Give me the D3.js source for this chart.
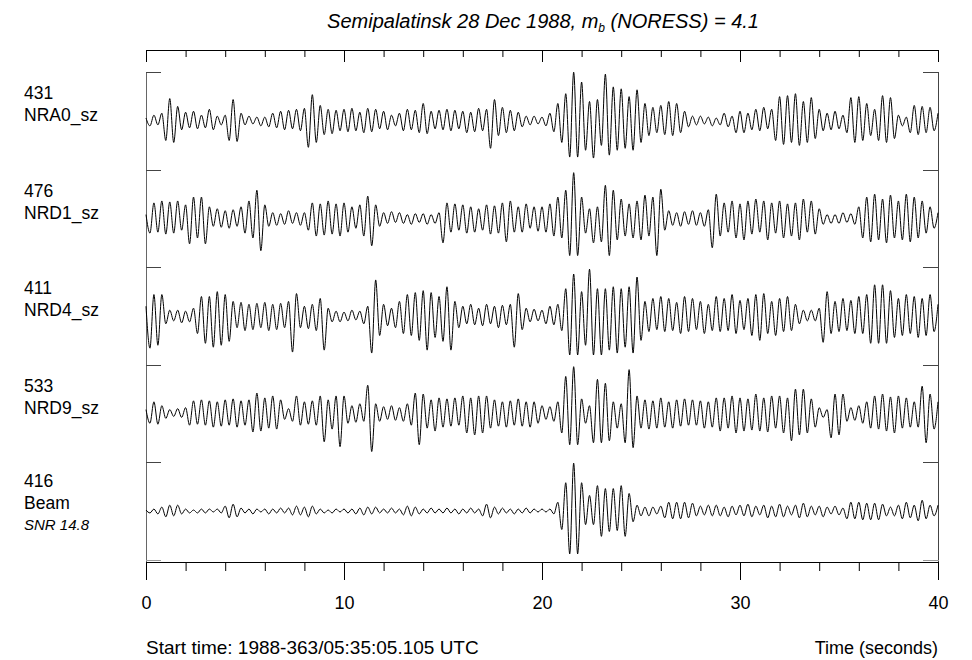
<!DOCTYPE html>
<html>
<head>
<meta charset="utf-8">
<script src="https://cdn.jsdelivr.net/npm/d3@7"></script>
<style>
body { margin: 0; background: #fff; }
text { font-family: "Liberation Sans", Arial, sans-serif; fill: #000; }
</style>
</head>
<body>
<svg id="chart" width="972" height="660"></svg>
<script>
// labels and trace data
var channels = ["NRA0_sz", "NRD1_sz", "NRD4_sz", "NRD9_sz", "Beam"];
var maxAmps = ["431", "476", "411", "533", "416"];
var beamNote = "SNR 14.8";
var xTicks = [0, 10, 20, 30, 40];
var xMinorTicks = [0, 2, 4, 6, 8, 10, 12, 14, 16, 18, 20, 22, 24, 26, 28, 30, 32, 34, 36, 38, 40];
var startText = "Start time: 1988-363/05:35:05.105 UTC";
var xLabel = "Time (seconds)";

// samples every 0.2 s, amplitude normalised to +-50 of the trace maximum
var SAMPLE_DT = 0.2;

var nra0 = [
	3,-5,6,-4,8, -20,23,-22,15,-9, 9,-7,10,-8,6, -7,12,-9,5,-4, 6,-20,22,-21,8,
	-4,5,-3,4,-5, 4,-6,8,-7,10, -9,11,-8,12,-10, 13,-27,27,-22,16, -14,12,-13,11,-10,
	12,-11,13,-10,9, -12,13,-11,12,-8, 10,-9,6,-5,8, -10,12,-9,11,-12, 18,-13,10,-8,11,
	-9,12,-10,11,-8, 10,-12,9,-11,13, -10,12,-28,22,-15, 14,-12,11,-10,9, -6,5,-4,5,-3,
	4,-5,8,-11,18, -22,28,-37,50,-37, 40,-30,20,-38,22, -25,48,-35,35,-30, 33,-28,25,-30,32,
	-22,18,-15,14,-12, 16,-14,20,-15,18, -12,10,-6,5,-4, 5,-3,4,-5,3, -4,8,-6,5,-12,
	10,-12,8,-9,12, -10,14,-8,12,-20, 25,-24,26,-22,28, -25,20,-22,24,-18, 12,-10,8,-9,10,
	-8,6,-12,24,-22, 25,-20,18,-15,12, -20,26,-22,24,-18, 6,-5,4,-12,16, -14,15,-12,14,-10,
	8
];

var nrd1 = [
	4,-15,16,-14,18, -16,17,-15,18,-12, 14,-26,22,-20,22, -26,12,-8,10,-9, 8,-10,9,-8,12,
	-15,18,-20,29,-33, 14,-8,6,-7,5, -6,8,-5,6,-7, 6,-12,16,-18,15, -17,18,-16,15,-18,
	16,-14,12,-10,14, -18,23,-28,14,-8, 6,-5,7,-4,6, -5,4,-6,5,-4, 5,-6,4,-5,6,
	-25,16,-14,15,-12, 14,-15,12,-14,10, -12,14,-16,13,-15, 16,-24,18,-14,12, -14,15,-10,12,-13,
	12,-14,15,-18,22, -20,29,-38,47,-38, 22,-15,10,-25,12, -24,34,-38,29,-22, 20,-18,15,-20,18,
	-22,24,-18,22,-38, 30,-12,8,-7,6, -8,7,-6,8,-7, 6,-8,9,-30,25, -18,16,-14,18,-20,
	15,-22,18,-16,20, -14,18,-22,16,-15, 18,-20,15,-18,16, -22,20,-14,18,-16, 10,-6,4,-5,4,
	-5,6,-4,5,-6, 12,-20,22,-24,25, -22,20,-25,24,-20, 18,-22,25,-24,22, -20,18,-15,12,-10,
	6
];

var nrd4 = [
	10,-33,22,-30,22, -8,6,-5,6,-7, 5,-6,8,-18,20, -28,20,-32,25,-30, 22,-26,15,-12,14,
	-15,12,-14,13,-12, 14,-15,12,-14,13, -12,15,-37,23,-12, 10,-13,12,-15,18, -35,8,-6,5,-6,
	4,-5,6,-4,5, -8,10,-38,37,-20, 12,-10,8,-12,15, -18,22,-20,24,-25, 26,-35,24,-22,20,
	-26,30,-35,15,-12, 10,-8,12,-9,8, -10,12,-8,10,-12, 11,-9,12,-32,23, -14,8,-6,7,-5,
	6,-8,10,-9,12, -15,28,-40,43,-40, 25,-30,48,-40,28, -40,28,-35,30,-38, 28,-32,30,-38,40,
	-25,15,-16,18,-14, 20,-16,18,-15,14, -18,20,-16,18,-14, 15,-18,12,-15,20, -16,18,-15,22,-18,
	16,-14,18,-20,22, -25,23,-18,15,-20, 18,-16,20,-15,12, -8,6,-5,6,-5, 8,-27,25,-18,15,
	-16,18,-15,16,-18, 20,-18,22,-28,32, -28,32,-28,26,-22, 18,-20,22,-18,20, -22,18,-20,22,-16,
	12
];

var nrd9 = [
	4,-10,12,-11,8, -5,4,-3,5,-4, 6,-12,13,-11,14, -12,13,-14,12,-13, 14,-12,15,-14,13,
	-12,14,-19,21,-18, 16,-15,18,-16,14, -6,5,-8,18,-12, 12,-11,13,-12,18, -29,14,-16,18,-34,
	18,-10,8,-9,10, -8,29,-39,10,-8, 7,-6,8,-7,6, -8,10,-12,21,-32, 20,-15,14,-18,16,
	-14,15,-13,16,-12, 18,-20,16,-22,18, -20,18,-15,14,-13, 12,-14,13,-12,15, -13,12,-14,12,-10,
	8,-6,7,-8,12, -20,38,-32,48,-32, 15,-10,8,-30,35, -30,31,-28,12,-15, 10,-30,45,-35,18,
	-15,14,-16,13,-15, 16,-14,12,-15,14, -13,15,-12,14,-12, 13,-15,12,-14,16, -18,16,-15,18,-20,
	16,-18,15,-17,20, -18,16,-19,18,-15, 18,-20,16,-28,25, -22,25,-20,15,-14, 6,-4,4,-25,20,
	-22,20,-8,6,-7, 8,-10,12,-15,18, -16,20,-18,17,-20, 18,-15,16,-14,12, -14,28,-30,20,-16,
	12
];

var beam = [
	1,-2,2,-3,4, -6,6,-5,6,-3, 2,-2,1,-2,2, -2,2,-1,2,-2, 5,-7,7,-6,3,
	-2,2,-3,2,-1, 2,-3,2,-2,3, -2,3,-4,5,-4, 4,-6,5,-3,2, -2,1,-2,2,-1,
	2,-2,2,-3,3, -4,4,-3,4,-2, 2,-2,3,-2,2, -4,5,-5,4,-3, 2,-2,3,-2,2,
	-2,3,-2,2,-3, 2,-2,3,-2,2, -5,7,-7,4,-3, 3,-2,2,-3,2, -2,3,-2,2,-1,
	2,-1,2,-3,9, -19,29,-44,49,-44, 29,-14,16,-14,26, -26,23,-21,23,-20, 26,-26,18,-11,6,
	-5,4,-5,4,-3, 5,-7,9,-8,9, -8,9,-7,8,-5, 5,-4,6,-5,6, -5,4,-6,5,-4,
	6,-5,7,-6,5, -4,6,-7,5,-6, 7,-6,5,-4,6, -7,8,-6,5,-4, 5,-6,4,-3,5,
	-4,3,-8,9,-8, 9,-9,8,-9,8, -9,7,-5,4,-5, 6,-8,9,-7,6, -10,11,-8,6,-5,
	6
];

var traces = [nra0, nrd1, nrd4, nrd9, beam];

var PLOT_LEFT = 146;
var PLOT_RIGHT = 938;
var TOP_AXIS_Y = 50;
var BOTTOM_AXIS_Y = 562;
var FIRST_CENTER = 121;
var LAST_CENTER = 511;
var BRACKET = 15;
var LABEL_SIZE = 17.5;
var FOOTER_Y = 654;

var svg = d3.select("#chart");

var x = d3.scaleLinear().domain([0, 40]).range([PLOT_LEFT, PLOT_RIGHT]);
var row = d3.scalePoint().domain(channels).range([FIRST_CENTER, LAST_CENTER]);
var step = row.step();
var amp = d3.scaleLinear().domain([-50, 50]).range([step / 2, -step / 2]);

//title
var title = svg.append("text")
	.attr("x", (PLOT_LEFT + PLOT_RIGHT) / 2 + 1)
	.attr("y", 28)
	.attr("text-anchor", "middle")
	.attr("font-size", 20)
	.attr("font-style", "italic");
title.append("tspan").text("Semipalatinsk 28 Dec 1988, m");
title.append("tspan").attr("font-size", 12).attr("dy", 4).text("b");
title.append("tspan").attr("dy", -4).text(" (NORESS) = 4.1");

//ticks only (top axis and minor ticks of bottom axis)
function tickAxis(y, values, size) {
	var g = svg.append("g")
		.attr("transform", "translate(0," + y + ")")
		.call(d3.axisBottom(x).tickValues(values).tickSize(size).tickSizeOuter(0).tickFormat(""));
	g.selectAll("path, line").attr("stroke", "#000");
	return g;
}
tickAxis(TOP_AXIS_Y, xMinorTicks, 7);
tickAxis(TOP_AXIS_Y, xTicks, 12);

//bottom axis
tickAxis(BOTTOM_AXIS_Y, xMinorTicks, 9);
var bottom = svg.append("g")
	.attr("transform", "translate(0," + BOTTOM_AXIS_Y + ")")
	.call(d3.axisBottom(x).tickValues(xTicks).tickSize(18).tickSizeOuter(0).tickPadding(16));
bottom.selectAll("path, line").attr("stroke", "#000");
bottom.selectAll("text").attr("font-size", 18).attr("font-family", null);

//frame with short brackets at every trace boundary
var frameTop = FIRST_CENTER - step / 2;
var frameBottom = LAST_CENTER + step / 2;
var frame = svg.append("g").attr("stroke", "#444").attr("stroke-width", 1);
frame.append("line")
	.attr("x1", PLOT_LEFT + 0.5).attr("x2", PLOT_LEFT + 0.5)
	.attr("y1", frameTop).attr("y2", BOTTOM_AXIS_Y)
	.attr("stroke", "#666");
frame.append("line")
	.attr("x1", PLOT_RIGHT + 0.5).attr("x2", PLOT_RIGHT + 0.5)
	.attr("y1", frameTop).attr("y2", BOTTOM_AXIS_Y);

var edges = channels.map(function(c) { return row(c) - step / 2; });
edges.push(frameBottom);
edges.forEach(function(e, i) {
	var col = (i == edges.length - 1) ? "#999" : "#444";
	var yy = Math.round(e) + 0.5;
	frame.append("line")
		.attr("stroke", col)
		.attr("x1", PLOT_LEFT).attr("x2", PLOT_LEFT + BRACKET)
		.attr("y1", yy).attr("y2", yy);
	frame.append("line")
		.attr("stroke", col)
		.attr("x1", PLOT_RIGHT - BRACKET).attr("x2", PLOT_RIGHT + 1)
		.attr("y1", yy).attr("y2", yy);
});

//traces
var line = d3.line()
	.x(function(d, i) { return x(i * SAMPLE_DT); })
	.y(function(d) { return amp(d); })
	.curve(d3.curveMonotoneX);

traces.forEach(function(tr, k) {
	if (tr.length != 201) console.error("trace " + channels[k] + " has " + tr.length + " samples");
	svg.append("path")
		.attr("transform", "translate(0," + row(channels[k]) + ")")
		.attr("d", line(tr))
		.attr("fill", "none")
		.attr("stroke", "#000")
		.attr("stroke-width", 1);
});

//trace labels
channels.forEach(function(c, k) {
	var cy = row(c);
	var isBeam = (k == channels.length - 1);
	var off = isBeam ? -2 : 0;
	svg.append("text")
		.attr("x", 24).attr("y", cy - 22 + off)
		.attr("font-size", LABEL_SIZE)
		.text(maxAmps[k]);
	svg.append("text")
		.attr("x", 24).attr("y", cy + off)
		.attr("font-size", LABEL_SIZE)
		.text(c);
	if (isBeam) {
		svg.append("text")
			.attr("x", 24).attr("y", cy + 19)
			.attr("font-size", 15)
			.attr("font-style", "italic")
			.text(beamNote);
	}
});

//footer
svg.append("text")
	.attr("x", PLOT_LEFT).attr("y", FOOTER_Y)
	.attr("font-size", 19)
	.text(startText);
svg.append("text")
	.attr("x", PLOT_RIGHT).attr("y", FOOTER_Y)
	.attr("text-anchor", "end")
	.attr("font-size", 18)
	.text(xLabel);
</script>
</body>
</html>
